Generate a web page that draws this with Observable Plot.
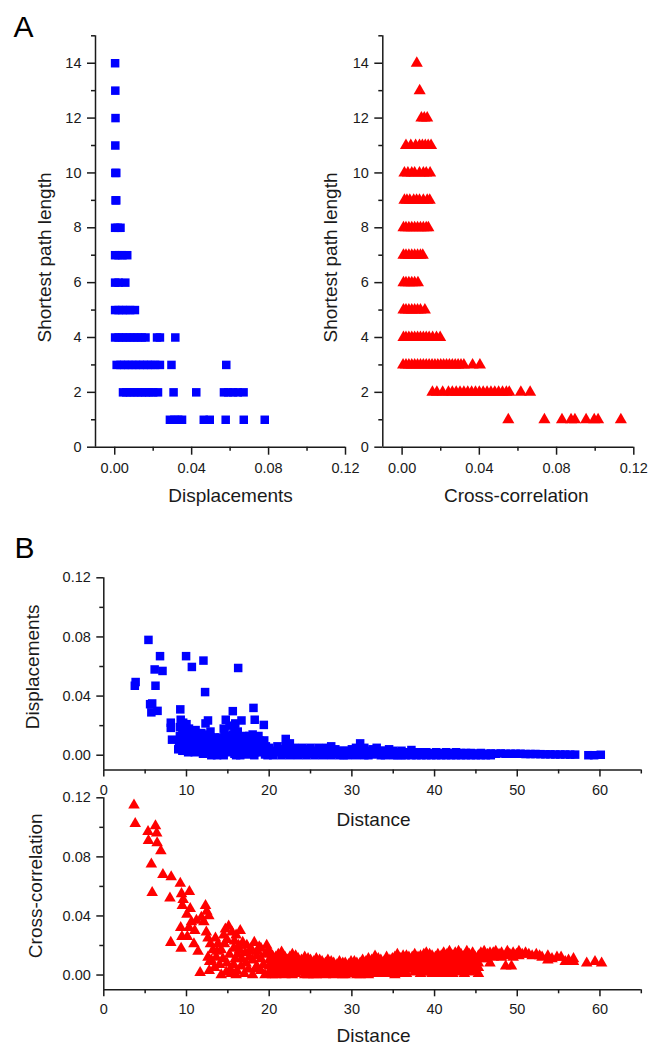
<!DOCTYPE html>
<html>
<head>
<meta charset="utf-8">
<script src="https://cdn.jsdelivr.net/npm/d3@7"></script>
<script src="https://cdn.jsdelivr.net/npm/@observablehq/plot@0.6"></script>
<style>
  html, body { margin: 0; padding: 0; background: #fff; }
  #chart { position: relative; width: 648px; height: 1048px; overflow: hidden; }
  #chart svg { position: absolute; left: 0; top: 0; }
</style>
</head>
<body>
<div id="chart"></div>
<script>
// ---------- Data ----------
// Panel A (left): displacements per shortest path length  [pathLength, [values]]
const dispByPath = [
  [14, [0.0002]],
  [13, [0.0003]],
  [12, [0.0004]],
  [11, [0.0003]],
  [10, [0.0003, 0.0008]],
  [9,  [0.0004, 0.0008]],
  [8,  [0.0002, 0.0015, 0.003]],
  [7,  [0.0002, 0.002, 0.004, 0.0065]],
  [6,  [0.0002, 0.002, 0.0055]],
  [5,  [0.0002, 0.002, 0.004, 0.006, 0.008, 0.0105]],
  [4,  [0.0002, 0.002, 0.004, 0.006, 0.008, 0.010, 0.012, 0.014, 0.016, 0.022, 0.0235, 0.0315]],
  [3,  [0.001, 0.003, 0.005, 0.007, 0.009, 0.011, 0.013, 0.015, 0.017, 0.019, 0.021, 0.0235, 0.0295, 0.058]],
  [2,  [0.0043, 0.006, 0.008, 0.010, 0.012, 0.014, 0.016, 0.018, 0.020, 0.0225, 0.0306, 0.0424, 0.0568, 0.059, 0.0615, 0.064, 0.067]],
  [1,  [0.0287, 0.031, 0.033, 0.035, 0.0463, 0.0494, 0.0577, 0.0671, 0.078]]
];

// Panel A (right): cross-correlation per shortest path length
const corrByPath = [
  [14, [0.0076]],
  [13, [0.0091]],
  [12, [0.010, 0.0115, 0.013]],
  [11, [0.002, 0.0045, 0.007, 0.009, 0.0105, 0.012, 0.0135, 0.015]],
  [10, [0.0012, 0.003, 0.005, 0.0065, 0.009, 0.011, 0.0125, 0.0145]],
  [9,  [0.0012, 0.0025, 0.004, 0.006, 0.0075, 0.009, 0.011, 0.013, 0.0143]],
  [8,  [0.0007, 0.002, 0.0035, 0.005, 0.0065, 0.008, 0.0095, 0.011, 0.0125, 0.0136]],
  [7,  [0.0007, 0.002, 0.0035, 0.005, 0.0065, 0.008, 0.0095, 0.0107]],
  [6,  [0.0007, 0.002, 0.0035, 0.005, 0.0065, 0.0082]],
  [5,  [0.0007, 0.002, 0.0035, 0.005, 0.0065, 0.008, 0.0095, 0.0118]],
  [4,  [0.0007, 0.002, 0.0035, 0.005, 0.0065, 0.008, 0.0095, 0.011, 0.0125, 0.014, 0.0158, 0.0178, 0.0197]],
  [3,  [0.0005, 0.002, 0.0035, 0.005, 0.0065, 0.008, 0.0095, 0.011, 0.0125, 0.014, 0.0155, 0.017, 0.0185, 0.020, 0.0215, 0.023, 0.0245, 0.026, 0.0275, 0.029, 0.0305, 0.032, 0.0365, 0.0403]],
  [2,  [0.0157, 0.018, 0.021, 0.024, 0.026, 0.028, 0.030, 0.032, 0.034, 0.036, 0.038, 0.040, 0.042, 0.044, 0.046, 0.048, 0.050, 0.052, 0.054, 0.0555, 0.0615, 0.0663]],
  [1,  [0.055, 0.0737, 0.0828, 0.0875, 0.0895, 0.0953, 0.0995, 0.1015, 0.1133]]
];

// Panel B (top): displacements vs distance  [distance, values...]
const dispByDistance = [
  [3.75,0.047],[3.85,0.0495],[5.4,0.078],[5.6,0.0345],[5.75,0.029],[5.85,0.035],[6.15,0.058],[6.25,0.047],
  [6.5,0.030],[6.8,0.067],[7.1,0.057],[8.1,0.022,0.0185],[8.25,0.0105],[9.0,0.004],[9.1,0.006],[9.2,0.019,0.013,0.010],
  [9.25,0.031],[9.3,0.024,0.007],[9.4,0.010],[9.5,0.016,0.003],[9.6,0.022,0.005],[9.7,0.013],[9.8,0.008],[9.95,0.067],
  [10.0,0.021,0.004],[10.1,0.009],[10.2,0.011,0.002],[10.3,0.018],[10.4,0.014],[10.5,0.007,0.003],[10.6,0.016],
  [10.65,0.0597],[10.7,0.009],[10.8,0.011],[10.9,0.005],[11.0,0.014,0.002],[11.1,0.017],[11.2,0.006],[11.3,0.009],
  [11.4,0.012],[11.5,0.003],[11.6,0.011],[11.7,0.004],[11.8,0.015],[11.9,0.007],[12.0,0.001],[12.05,0.064],
  [12.1,0.009],[12.2,0.013],[12.25,0.0427],[12.3,0.0215,0.005],[12.4,0.007],[12.5,0.002],
  [12.6,0.0235,0.010],[12.7,0.014],[12.8,0.004],[12.9,0.016],[13.0,0.012,0.0],[13.1,0.009],[13.2,0.004],[13.3,0.008],
  [13.4,0.012],[13.5,0.002],[13.6,0.005],[13.7,0.0],[13.9,0.010],[14.0,0.001],[14.1,0.012],[14.2,0.004],[14.3,0.008],
  [14.4,0.005],[14.5,0.018,0.0],[14.6,0.017],[14.7,0.010],[14.75,0.024],[14.8,0.004],
  [14.9,0.013],[15.0,0.002],[15.1,0.006],[15.2,0.020,0.011],[15.4,0.009],[15.5,0.003],[15.6,0.0298,0.014],
  [15.7,0.005],[15.8,0.017,0.001],[15.9,0.0215],[16.0,0.009,0.0],[16.1,0.013],[16.2,0.016],[16.25,0.059],
  [16.3,0.006],[16.4,0.011],[16.5,0.0],[16.6,0.004],[16.65,0.0235],[16.8,0.008],[16.9,0.013],[17.0,0.004],
  [17.1,0.007],[17.2,0.012],[17.4,0.0005,0.009],[17.5,0.003],[17.6,0.013],[17.8,0.006],[17.9,0.010],[18.0,0.014],
  [18.1,0.032],[18.2,0.0],[18.25,0.024],[18.3,0.002],[18.4,0.012,0.007],[18.6,0.004],[18.7,0.013],[18.8,0.010],
  [19.0,0.002],[19.1,0.005],[19.2,0.008],[19.35,0.0205],[19.4,0.010],[19.5,0.0005],[19.6,0.006],[19.8,0.003,0.0],
  [20.0,0.005,0.001],[20.5,0.003,0.0],[21.0,0.006,0.002],[21.5,0.004,0.0],[22.0,0.011,0.006,0.001],
  [22.5,0.008,0.003,0.0],[23.0,0.005,0.001],[23.5,0.004,0.0],[24.0,0.005,0.001],[24.5,0.004,0.0],
  [25.0,0.005,0.001],[25.5,0.003,0.0],[26.0,0.005,0.001],[26.5,0.004,0.0],[27.0,0.005,0.001],[27.5,0.006,0.0],
  [28.0,0.004,0.001],[28.5,0.003,0.0],[29.0,0.003,0.0],[29.5,0.003,0.0],[30.0,0.004,0.0005],[30.5,0.005,0.0],
  [31.0,0.008,0.003],[31.5,0.005,0.0],[32.0,0.003,0.0],[32.5,0.004,0.0005],[33.0,0.005,0.001],[33.5,0.003,0.0],
  [34.0,0.003,0.0],[34.5,0.004,0.0005],[35.0,0.003,0.0],[35.5,0.002,0.0],[36.0,0.003,0.0],[36.5,0.002,0.0],
  [37.2,0.0035,0.0],[37.8,0.002,0.0],[38.4,0.002,0.0],[39.0,0.002,0.0],[39.6,0.0015,0.0],[40.2,0.002,0.0],
  [40.8,0.0015,0.0],[41.4,0.002,0.0],[42.0,0.0015,0.0],[42.6,0.002,0.0],[43.2,0.0015,0.0],[43.8,0.0015,0.0],
  [44.4,0.0015,0.0],[45.0,0.0012,0.0],[45.6,0.0015,0.0],[46.2,0.001,0.0],[46.8,0.0012,0.0],[47.4,0.001],
  [48.0,0.0012],[48.6,0.001],[49.2,0.001],[49.8,0.001],[50.4,0.001],[51.0,0.0008],[51.6,0.0008],[52.2,0.0008],
  [52.8,0.0007],[53.4,0.0006],[54.0,0.0006],[54.6,0.0005],[55.2,0.0005],[55.8,0.0005],[56.4,0.0004],[57.0,0.0004],
  [58.6,0.0],[59.3,0.0],[60.1,0.0003]
];

// Panel B (bottom): cross-correlation vs distance  [distance, values...]
const corrByDistance = [
  [3.65,0.115],[3.8,0.1025],[5.35,0.097],[5.4,0.091],[5.75,0.075],[5.85,0.0558],[6.25,0.101],[6.4,0.096],
  [6.45,0.0895],[6.9,0.084],[7.15,0.068],[8.0,0.052],[8.1,0.022],[8.15,0.0665],[9.25,0.062],[9.3,0.032],
  [9.35,0.018],[9.4,0.055],[9.45,0.026],[9.5,0.047],[9.6,0.051],[10.05,0.041],[10.1,0.026],[10.3,0.032],
  [10.35,0.0565],[10.45,0.045],[10.6,0.036],[10.9,0.021],[11.0,0.030],[11.2,0.037],[11.4,0.016],[11.65,0.0016],
  [11.8,0.039],[12.1,0.036],[12.3,0.047],[12.4,0.029],[12.45,0.043],[12.6,0.025,0.012],[12.7,0.040],
  [12.75,0.003],[12.8,0.009],[12.9,0.021],[13.0,0.010],[13.2,0.017],[13.4,0.005],[13.5,0.025],[13.6,0.012],
  [13.7,0.016],[13.8,0.021],[14.0,0.007],[14.2,0.0,0.017],[14.4,0.011],[14.5,0.027],[14.6,0.021],[14.7,0.031],
  [14.8,0.002],[14.9,0.008,0.024],[15.1,0.033],[15.2,0.014],[15.3,0.004],[15.4,0.001],[15.5,0.029],
  [15.7,0.018,0.007],[15.8,0.023],[15.9,0.011],[16.0,0.027,0.0],[16.1,0.003],[16.2,0.014],[16.3,0.020],
  [16.4,0.017],[16.5,0.030],[16.6,0.006],[16.7,0.011],[16.8,0.022],[17.0,0.001],[17.1,0.015],[17.2,0.008],
  [17.3,0.020],[17.5,0.004],[17.6,0.012],[17.7,0.016],[17.8,0.018],[18.0,0.010,0.0],[18.2,0.022],[18.3,0.004],
  [18.5,0.013,0.006],[18.6,0.016],[18.8,0.019],[19.0,0.018,0.011,0.003],[19.3,0.007],[19.5,0.014,0.0],
  [19.7,0.020],[19.9,0.017],
  [20.0,0.015,0.010,0.006,0.002],[20.4,0.013,0.008,0.004,0.0],[20.8,0.012,0.008,0.004,0.0],
  [21.1,0.014,0.009,0.005,0.001],[21.5,0.0155,0.011,0.007,0.003],[21.9,0.012,0.008,0.004,0.0],
  [22.2,0.010,0.006,0.001],[22.5,0.012,0.007,0.003],[22.8,0.014,0.009,0.005,0.0],[23.2,0.013,0.009,0.005,0.001],
  [23.5,0.011,0.007,0.003],[23.9,0.010,0.006,0.002],[24.3,0.012,0.008,0.004,0.0],[24.7,0.011,0.007,0.003,0.0],
  [25.0,0.010,0.006,0.002],[25.4,0.009,0.004,0.0],[25.7,0.011,0.007,0.003,0.0],[26.1,0.010,0.006,0.002],
  [26.4,0.009,0.005,0.001],[26.8,0.008,0.004,0.0],[27.1,0.010,0.006,0.002],[27.5,0.009,0.005,0.001],
  [27.8,0.008,0.004,0.0],[28.2,0.007,0.003],[28.5,0.009,0.005,0.001],[28.9,0.008,0.004,0.0],
  [29.2,0.008,0.004,0.0],[29.6,0.007,0.003],[29.9,0.009,0.005,0.001],[30.3,0.009,0.005,0.001],
  [30.6,0.008,0.004,0.0],[31.0,0.008,0.004,0.0],[31.3,0.010,0.006,0.002],[31.7,0.009,0.005,0.001],
  [32.0,0.011,0.007,0.003,0.0],[32.4,0.010,0.006,0.002],[32.8,0.0128,0.008,0.004,0.001],[33.2,0.011,0.007,0.003],
  [33.5,0.010,0.006,0.002],[33.9,0.009,0.005,0.001],[34.2,0.012,0.008,0.004,0.001],[34.6,0.010,0.006,0.002],
  [34.9,0.011,0.007,0.003],[35.2,0.012,0.008,0.004,0.0],[35.5,0.014,0.010,0.006,0.002],[35.9,0.011,0.007,0.003],
  [36.2,0.013,0.009,0.005,0.001],[36.6,0.013,0.009,0.005,0.001],[36.9,0.012,0.008,0.004],[37.3,0.012,0.008,0.004],
  [37.6,0.014,0.010,0.006,0.002],[38.0,0.012,0.007,0.003],[38.3,0.013,0.009,0.005,0.001],
  [38.7,0.014,0.010,0.006,0.002],[39.0,0.015,0.011,0.007,0.003],[39.4,0.014,0.010,0.006,0.002],
  [39.7,0.013,0.009,0.005,0.001],[40.1,0.012,0.008,0.004],[40.4,0.014,0.010,0.006,0.002],
  [40.8,0.013,0.009,0.005,0.001],[41.1,0.015,0.011,0.007,0.003],[41.5,0.014,0.010,0.006,0.002],
  [41.8,0.016,0.012,0.008,0.004,0.001],[42.2,0.013,0.009,0.005,0.001],[42.5,0.015,0.011,0.007,0.003],
  [42.9,0.016,0.012,0.008,0.004],[43.2,0.014,0.010,0.006,0.002],[43.6,0.013,0.009,0.005,0.001],
  [43.9,0.016,0.012,0.008,0.004],[44.2,0.014,0.010,0.006,0.002],[44.6,0.015,0.011,0.007,0.003],
  [44.9,0.012,0.008,0.004],[45.3,0.013,0.008,0.005,0.001],[45.6,0.015,0.011],[46.0,0.016,0.013],
  [46.4,0.014,0.011],[46.7,0.015,0.008],[47.1,0.015,0.012],[47.4,0.016,0.013],[47.8,0.014],[48.1,0.015,0.012],
  [48.6,0.006],[48.8,0.016,0.013],[49.1,0.014],[49.3,0.006],[49.5,0.015,0.012],[49.9,0.014],[50.2,0.016,0.013],
  [50.6,0.014],[51.0,0.015],[51.4,0.014],[51.8,0.013],[52.3,0.014],[52.7,0.013],[53.0,0.012],[53.7,0.013,0.010],
  [54.2,0.011],[54.8,0.012],[55.3,0.012],[55.8,0.009],[56.2,0.010],[56.8,0.011,0.009],[58.4,0.008],[59.4,0.009],
  [60.2,0.008]
];

// Axis domains and tick labels
const valueDomain = [-0.01, 0.12];
const pathDomain = [0, 15];
const distDomain = [0, 65];
const pathMajor = [0, 2, 4, 6, 8, 10, 12, 14];
const pathMinor = [1, 3, 5, 7, 9, 11, 13, 15];
const valueMajor = [0, 0.04, 0.08, 0.12];
const valueMinor = [0.02, 0.06, 0.10];
const distMajor = [0, 10, 20, 30, 40, 50, 60];
const distMinor = [5, 15, 25, 35, 45, 55, 65];

// ---------- Helpers ----------
const flatPath = rows => rows.flatMap(([p, vs]) => vs.map(v => ({p, v})));
const flatDist = rows => rows.flatMap(([d, ...vs]) => vs.map(v => ({d, v})));

const FONT = "'Liberation Sans', Arial, Helvetica, sans-serif";
const INK = "#1a1a1a";
const BLUE = "#0000ff";
const RED = "#ff0000";
const f2 = d3.format(".2f");
const TICK_FS = 14.5;
const TITLE_FS = 19;

function axes(xDom, yDom, xMaj, xMin, yMaj, yMin, xFmt, yFmt, tick) {
  return [
    Plot.ruleX([xDom[0]], {stroke: INK, strokeWidth: 1.5}),
    Plot.ruleY([yDom[0]], {stroke: INK, strokeWidth: 1.5}),
    Plot.axisX({ticks: xMaj, tickSize: tick.major, tickPadding: tick.xpad, tickFormat: xFmt,
      fontSize: TICK_FS, stroke: INK, fill: INK, strokeWidth: 1.5, label: null}),
    Plot.axisX({ticks: xMin, tickSize: tick.minor, tickFormat: () => "", stroke: INK, strokeWidth: 1.5, label: null}),
    Plot.axisY({ticks: yMaj, tickSize: tick.major, tickPadding: 6, tickFormat: yFmt,
      fontSize: TICK_FS, stroke: INK, fill: INK, strokeWidth: 1.5, label: null}),
    Plot.axisY({ticks: yMin, tickSize: tick.minor, tickFormat: () => "", stroke: INK, strokeWidth: 1.5, label: null})
  ];
}

function titleX(t, dx, dy) {
  return Plot.text([t], {text: d => d, frameAnchor: "bottom", dx, dy, lineAnchor: "bottom",
    textAnchor: "middle", fontSize: TITLE_FS, fill: INK});
}
function titleY(t, dx, dy) {
  return Plot.text([t], {text: d => d, frameAnchor: "left", dx, dy, rotate: -90, textAnchor: "middle",
    lineAnchor: "middle", fontSize: TITLE_FS, fill: INK});
}

const base = {
  width: 648, height: 1048,
  style: {fontFamily: FONT, background: "transparent", overflow: "visible"}
};

const chart = document.getElementById("chart");

// ---------- Panel A, left ----------
chart.append(Plot.plot({
  ...base,
  marginLeft: 95, marginRight: 303, marginTop: 35.3, marginBottom: 601.3,
  x: {domain: valueDomain}, y: {domain: pathDomain},
  marks: [
    ...axes(valueDomain, pathDomain, valueMajor, valueMinor, pathMajor, pathMinor, f2, d3.format("d"),
      {major: 8, minor: 4, xpad: 8}),
    Plot.dot(flatPath(dispByPath), {x: "v", y: "p", symbol: "square", r: 4.8, fill: BLUE}),
    titleX("Displacements", 10, 54.3),
    titleY("Shortest path length", -51, 16),
    Plot.text(["A"], {text: d => d, frameAnchor: "top-left", dx: -82, dy: 0.7, lineAnchor: "bottom",
      textAnchor: "start", fontSize: 30, fill: "#000"})
  ]
}));

// ---------- Panel A, right ----------
chart.append(Plot.plot({
  ...base,
  marginLeft: 382.3, marginRight: 14.7, marginTop: 35.3, marginBottom: 601.3,
  x: {domain: valueDomain}, y: {domain: pathDomain},
  marks: [
    ...axes(valueDomain, pathDomain, valueMajor, valueMinor, pathMajor, pathMinor, f2, d3.format("d"),
      {major: 8, minor: 4, xpad: 8}),
    Plot.dot(flatPath(corrByPath), {x: "v", y: "p", symbol: "triangle", r: 4.5, fill: RED}),
    titleX("Cross-correlation", 8, 54.3),
    titleY("Shortest path length", -51.5, 16)
  ]
}));

// ---------- Panel B, top ----------
chart.append(Plot.plot({
  ...base,
  marginLeft: 103.3, marginRight: 7.2, marginTop: 577.3, marginBottom: 278.5,
  x: {domain: distDomain}, y: {domain: valueDomain},
  marks: [
    ...axes(distDomain, valueDomain, distMajor, distMinor, valueMajor, valueMinor, d3.format("d"), f2,
      {major: 7, minor: 4, xpad: 7.5}),
    Plot.dot(flatDist(dispByDistance), {x: "d", y: "v", symbol: "square", r: 4.8, fill: BLUE}),
    titleX("Distance", 1, 55.5),
    titleY("Displacements", -71, -7),
    Plot.text(["B"], {text: d => d, frameAnchor: "top-left", dx: -89.3, dy: -20.3, lineAnchor: "bottom",
      textAnchor: "start", fontSize: 30, fill: "#000"})
  ]
}));

// ---------- Panel B, bottom ----------
chart.append(Plot.plot({
  ...base,
  marginLeft: 103.3, marginRight: 7.2, marginTop: 797.3, marginBottom: 58.7,
  x: {domain: distDomain}, y: {domain: valueDomain},
  marks: [
    ...axes(distDomain, valueDomain, distMajor, distMinor, valueMajor, valueMinor, d3.format("d"), f2,
      {major: 7, minor: 4, xpad: 7}),
    Plot.dot(flatDist(corrByDistance), {x: "d", y: "v", symbol: "triangle", r: 4.3, fill: RED}),
    titleX("Distance", 1, 52.5),
    titleY("Cross-correlation", -68, -8)
  ]
}));
</script>
</body>
</html>
